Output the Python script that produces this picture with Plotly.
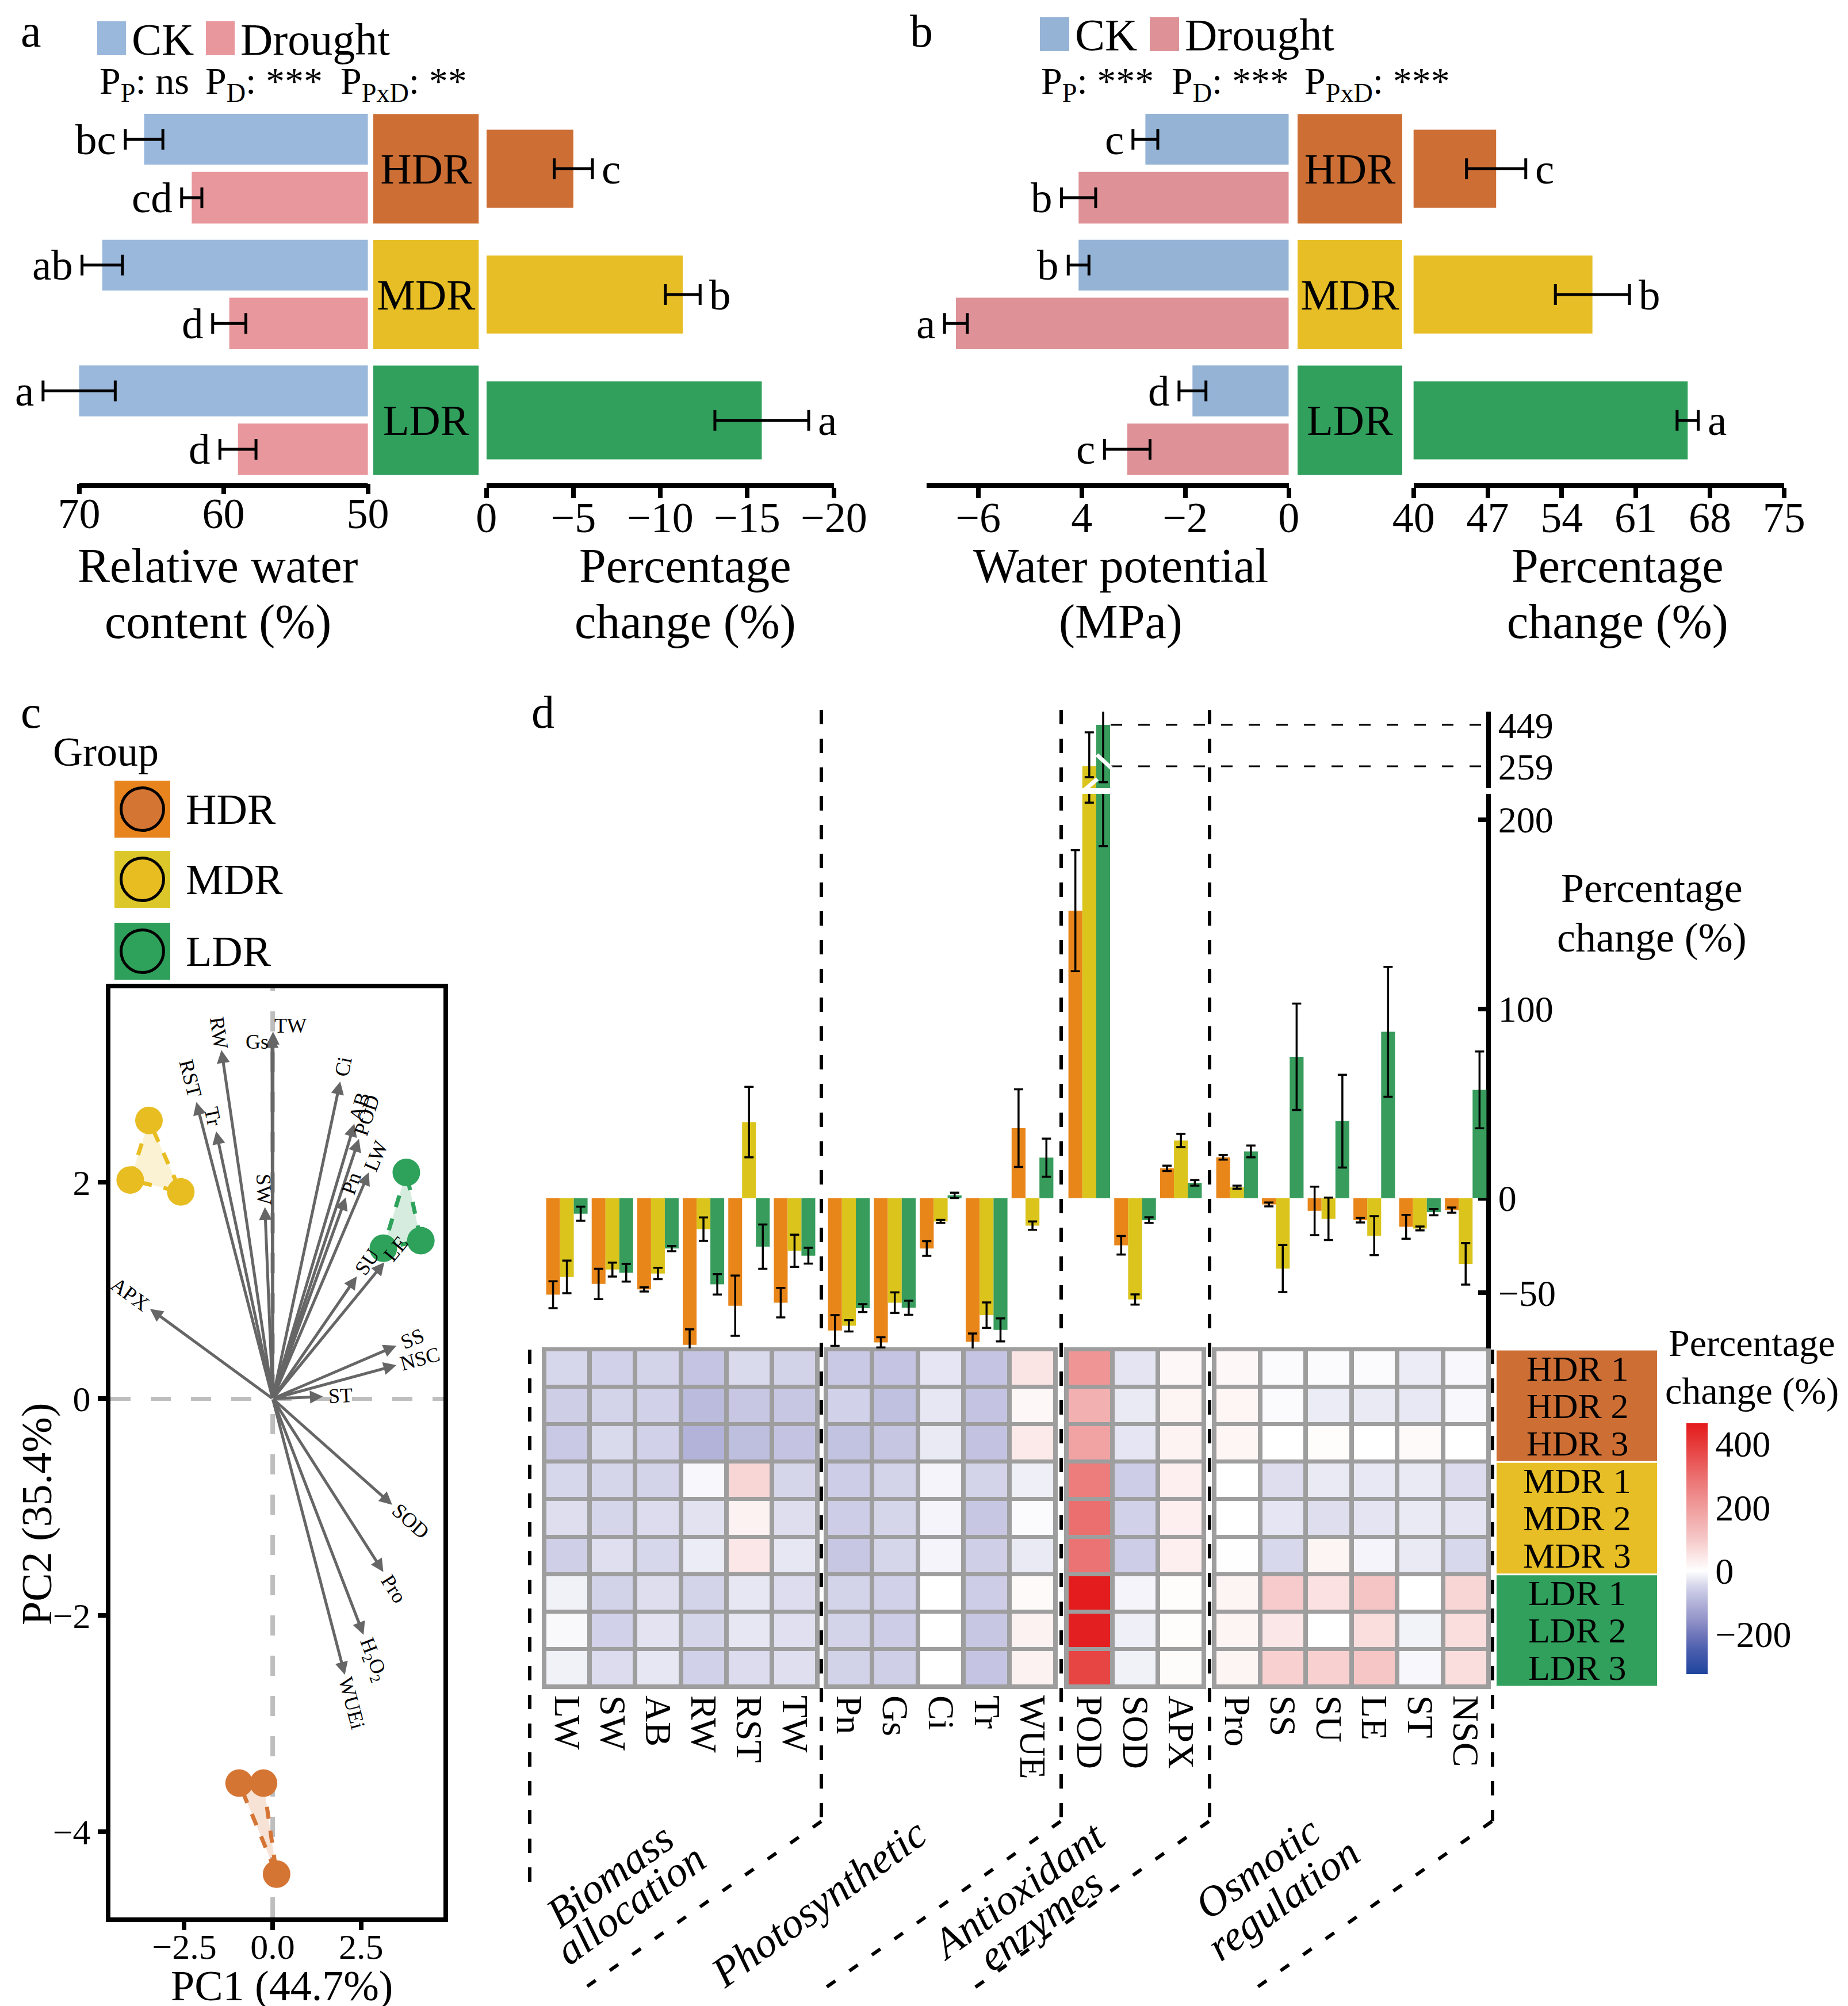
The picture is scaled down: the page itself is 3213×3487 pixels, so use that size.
import math
import re
import plotly.graph_objects as go

W, H = 3213, 3487
FONT = "Liberation Serif"


def px(x):
    return x / W


def py(y):
    return 1 - y / H


def mfmt(v):
    s = f"{v:g}"
    return s.replace("-", "\u2212")


# ------------------------------------------------------------------ data
groups = ["HDR", "MDR", "LDR"]

# panel a : relative water content (%)
rwc_ck = [65.5, 68.4, 70.0]
rwc_ck_se = [1.3, 1.4, 2.5]
rwc_ck_let = ["bc", "ab", "a"]
rwc_dr = [62.2, 59.6, 59.0]
rwc_dr_se = [0.7, 1.15, 1.25]
rwc_dr_let = ["cd", "d", "d"]
rwc_pc = [-5.0, -11.3, -15.85]
rwc_pc_se = [1.1, 1.0, 2.7]
rwc_pc_let = ["c", "b", "a"]
rwc_ticks = [70, 60, 50]
rwc_pc_ticks = [0, -5, -10, -15, -20]
p_text_a = ["P<sub>P</sub>: ns", "P<sub>D</sub>: ***", "P<sub>PxD</sub>: **"]

# panel b : water potential (MPa)
wp_ck = [-2.77, -4.06, -1.86]
wp_ck_se = [0.24, 0.20, 0.26]
wp_ck_let = ["c", "b", "d"]
wp_dr = [-4.06, -6.43, -3.12]
wp_dr_se = [0.33, 0.22, 0.44]
wp_dr_let = ["b", "a", "c"]
wp_pc = [47.8, 56.9, 65.9]
wp_pc_se = [2.8, 3.5, 1.0]
wp_pc_let = ["c", "b", "a"]
wp_ticks = [-6, -4, -2, 0]
wp_ticktext = ["\u22126", "4", "\u22122", "0"]
wp_pc_ticks = [40, 47, 54, 61, 68, 75]
p_text_b = ["P<sub>P</sub>: ***", "P<sub>D</sub>: ***", "P<sub>PxD</sub>: ***"]

# panel c : PCA
pca_x = {"HDR": [-0.95, -0.26, 0.11], "MDR": [-3.50, -4.03, -2.60], "LDR": [3.78, 3.13, 4.19]}
pca_y = {"HDR": [-3.55, -3.55, -4.39], "MDR": [2.57, 2.02, 1.91], "LDR": [2.09, 1.39, 1.46]}
load_names = ["TW", "Gs", "RW", "RST", "Tr", "SW", "Ci", "AB", "POD", "LW", "Pn", "SU", "LE",
              "SS", "NSC", "ST", "APX", "SOD", "Pro", "H<sub>2</sub>O<sub>2</sub>", "WUEi"]
load_x = [0.01, -0.02, -1.45, -2.16, -1.60, -0.22, 1.91, 2.31, 2.44, 2.72, 2.07, 2.38, 3.16,
          3.50, 3.50, 1.42, -3.47, 3.38, 3.13, 2.57, 2.04]
load_y = [3.39, 3.36, 3.22, 2.74, 2.47, 1.77, 2.93, 2.54, 2.40, 2.09, 1.86, 1.13, 1.26,
          0.49, 0.31, 0.02, 0.83, -0.98, -1.60, -2.18, -2.55]
pca_xticks = [-2.5, 0, 2.5]
pca_xticktext = ["\u22122.5", "0.0", "2.5"]
pca_yticks = [-4, -2, 0, 2]

# panel d : percentage change bars (mean, se) per block
block_names = ["Biomass allocation", "Photosynthetic", "Antioxidant enzymes", "Osmotic regulation"]
block_vars = [["LW", "SW", "AB", "RW", "RST", "TW"],
              ["Pn", "Gs", "Ci", "Tr", "WUE"],
              ["POD", "SOD", "APX"],
              ["Pro", "SS", "SU", "LE", "ST", "NSC"]]
bar_mean = {
    "HDR": [[-51.0, -45.3, -48.2, -77.5, -56.8, -55.2], [-69.9, -76.2, -26.6, -75.9, 37.0],
            [151.9, -24.9, 15.8], [21.6, -3.3, -6.7, -11.6, -15.1, -6.3]],
    "MDR": [[-41.6, -37.7, -39.8, -16.4, 40.2, -27.8], [-67.4, -55.2, -12.3, -61.8, -14.5],
            [259.0, -53.5, 30.5], [5.8, -37.2, -10.9, -19.8, -16.0, -34.7]],
    "LDR": [[-8.2, -39.4, -26.6, -45.5, -25.6, -30.4], [-58.1, -57.9, 1.5, -69.6, 21.4],
            [449.0, -11.6, 8.1], [24.7, 74.7, 40.7, 87.9, -7.4, 57.2]],
}
bar_se_plus = {
    "HDR": [[7.1, 8.0, 1.1, 8.2, 15.9, 7.8], [8.1, 2.7, 3.9, 4.4, 20.5],
            [32.0, 4.9, 1.4], [1.2, 1.0, 12.8, 1.2, 6.3, 1.4]],
    "MDR": [[8.6, 3.7, 3.0, 6.2, 18.6, 8.5], [3.0, 5.4, 0.8, 6.7, 2.2],
            [156.0, 2.7, 3.5], [0.8, 12.4, 11.2, 10.3, 1.0, 11.0]],
    "LDR": [[3.7, 4.7, 1.4, 5.4, 11.7, 4.2], [2.1, 3.7, 1.4, 6.1, 10.1],
            [263.0, 1.5, 1.5], [3.1, 28.1, 24.5, 34.3, 1.6, 20.3]],
}
bar_se_minus = {
    "HDR": bar_se_plus["HDR"],
    "MDR": [[8.6, 3.7, 3.0, 6.2, 18.6, 8.5], [3.0, 5.4, 0.8, 6.7, 2.2],
            [50.0, 2.7, 3.5], [0.8, 12.4, 11.2, 10.3, 1.0, 11.0]],
    "LDR": bar_se_plus["LDR"],
}
low_ticks = [-50, 0, 100, 200]
up_ticks = [259, 449]

# panel d : heatmap (percentage change per replicate)
heat_rows = ["HDR 1", "HDR 2", "HDR 3", "MDR 1", "MDR 2", "MDR 3", "LDR 1", "LDR 2", "LDR 3"]
heat_z = [
    [[-45, -53, -50, -72, -42, -52], [-58, -50, -53, -87, -68, -68], [-66, -42, -53, -100, -83, -73],
     [-45, -47, -50, -8, 75, -47], [-37, -47, -40, -33, 25, -37], [-57, -36, -45, -22, 45, -27],
     [-16, -52, -37, -50, -27, -39], [-7, -53, -32, -47, -27, -35], [-16, -40, -27, -53, -40, -36]],
    [[-65, -72, -29, -72, 50], [-53, -79, -27, -73, 15], [-76, -70, -24, -75, 40],
     [-60, -50, -12, -50, -18], [-60, -47, -12, -68, -5], [-68, -47, -12, -57, -24],
     [-50, -53, 0, -60, 10], [-50, -60, 0, -68, 25], [-52, -57, 0, -72, 25]],
    [[215, -31, 15], [155, -24, 20], [185, -29, 22],
     [270, -60, 30], [298, -53, 30], [290, -60, 30],
     [460, -12, 5], [455, -18, 5], [380, -16, 8]],
    [[15, -5, -5, -5, -22, -8], [18, -5, -22, -24, -26, -8], [18, 0, 5, 0, 10, 0],
     [0, -37, -24, -26, -24, -40], [0, -29, -37, -31, -24, -31], [2, -44, 20, -12, -24, -44],
     [20, 95, 55, 110, 0, 75], [20, 45, 0, 60, -15, 60], [20, 85, 85, 105, -8, 60]],
]
heat_zmin, heat_zmax = -325, 465
heat_ticks = [-200, 0, 200, 400]

# ------------------------------------------------------------------ styles
CK_A, DR_A = "#9AB8DC", "#E8979D"
CK_B, DR_B = "#95B3D5", "#DE9297"
GRP = {"HDR": "#CD6F35", "MDR": "#E7BE25", "LDR": "#30A05C"}
GRP_D = {"HDR": "#E8861A", "MDR": "#DBC41C", "LDR": "#379C5C"}
GRP_PCA = {"HDR": "#D57534", "MDR": "#E8BD22", "LDR": "#2EA25B"}
GRP_PCA_FILL = {"HDR": "rgba(213,117,52,0.20)", "MDR": "rgba(232,189,34,0.20)", "LDR": "rgba(46,162,91,0.20)"}
GRP_PCA_BOX = {"HDR": "#E8841E", "MDR": "#DCC72A", "LDR": "#2FA05B"}

fig = go.Figure()
annots = []
shapes = []


def ann(text, x, y, size, xanchor="center", yanchor="middle", angle=0):
    annots.append(dict(text=text, x=px(x), y=py(y), xref="paper", yref="paper", showarrow=False,
                       font=dict(size=size, family=FONT, color="black"), xanchor=xanchor,
                       yanchor=yanchor, textangle=angle))


def err(arr, thick=5, width=18, minus=None, visible=True):
    d = dict(type="data", array=arr, color="black", thickness=thick, width=width, visible=visible)
    if minus is not None:
        d["symmetric"] = False
        d["arrayminus"] = minus
    return d


off_ck, w_ck = -0.436, 0.404
off_dr, w_dr = 0.025, 0.41
off_pc, w_pc = -0.31, 0.62
off_box, w_box = -0.435, 0.87
cen_ck = off_ck + w_ck / 2
cen_dr = off_dr + w_dr / 2
AXIS_Y_AB = 836

# ------------------------------------------------------------------ panels a & b
for (xl, xb, xr, ya, ck, ckse, ckl, dr, drse, drl, pc, pcse, pcl, cck, cdr, sign_l) in [
    ("x", "x2", "x3", "y", rwc_ck, rwc_ck_se, rwc_ck_let, rwc_dr, rwc_dr_se, rwc_dr_let,
     rwc_pc, rwc_pc_se, rwc_pc_let, CK_A, DR_A, 1),
    ("x4", "x5", "x6", "y2", wp_ck, wp_ck_se, wp_ck_let, wp_dr, wp_dr_se, wp_dr_let,
     wp_pc, wp_pc_se, wp_pc_let, CK_B, DR_B, -1),
]:
    fig.add_trace(go.Bar(orientation="h", y=groups, x=ck, offset=off_ck, width=w_ck,
                         marker=dict(color=cck, line=dict(width=0)), error_x=err(ckse),
                         xaxis=xl, yaxis=ya, showlegend=False, hoverinfo="skip"))
    fig.add_trace(go.Bar(orientation="h", y=groups, x=dr, offset=off_dr, width=w_dr,
                         marker=dict(color=cdr, line=dict(width=0)), error_x=err(drse),
                         xaxis=xl, yaxis=ya, showlegend=False, hoverinfo="skip"))
    fig.add_trace(go.Bar(orientation="h", y=groups, x=[1] * len(groups), offset=off_box, width=w_box,
                         marker=dict(color=[GRP[g] for g in groups], line=dict(width=0)),
                         text=groups, textposition="inside", insidetextanchor="middle",
                         constraintext="none", textangle=0,
                         textfont=dict(size=75, family=FONT, color="black"),
                         xaxis=xb, yaxis=ya, showlegend=False, hoverinfo="skip"))
    fig.add_trace(go.Bar(orientation="h", y=groups, x=pc, offset=off_pc, width=w_pc,
                         marker=dict(color=[GRP[g] for g in groups], line=dict(width=0)),
                         error_x=err(pcse), xaxis=xr, yaxis=ya, showlegend=False, hoverinfo="skip"))
    for i in range(len(groups)):
        for v, s, lab, c in [(ck[i], ckse[i], ckl[i], cen_ck), (dr[i], drse[i], drl[i], cen_dr)]:
            annots.append(dict(text=lab, x=v + sign_l * s, y=i + c, xref=xl, yref=ya, showarrow=False,
                               xanchor="right", yanchor="middle", xshift=-14,
                               font=dict(size=75, family=FONT, color="black")))
        annots.append(dict(text=pcl[i], x=pc[i] - sign_l * pcse[i], y=i, xref=xr, yref=ya,
                           showarrow=False, xanchor="left", yanchor="middle", xshift=14,
                           font=dict(size=75, family=FONT, color="black")))

axis_common = dict(showline=True, linecolor="black", linewidth=8, ticks="outside", ticklen=18,
                   tickwidth=8, tickcolor="black", showgrid=False, zeroline=False, ticklabelstandoff=-30,
                   tickfont=dict(size=74, family=FONT, color="black"))
ydom_ab = [py(832), py(176)]
layout = dict(
    width=W, height=H, margin=dict(l=0, r=0, t=0, b=0, pad=0, autoexpand=False), autosize=False,
    paper_bgcolor="white", plot_bgcolor="rgba(0,0,0,0)",
    font=dict(family=FONT, color="black"),
    barmode="group", bargap=0.09, bargroupgap=0,
    showlegend=False,
)
layout["yaxis"] = dict(domain=ydom_ab, type="category", categoryorder="array", categoryarray=groups,
                       range=[2.5, -0.5], visible=False, anchor="x")
layout["yaxis2"] = dict(domain=ydom_ab, type="category", categoryorder="array", categoryarray=groups,
                        range=[2.5, -0.5], visible=False, anchor="x4")
A_L70, A_R50 = 129.6, 631.6
a_ppu = (A_R50 - A_L70) / (rwc_ticks[0] - rwc_ticks[-1])
a_rng_left = 74
layout["xaxis"] = dict(axis_common, showline=False,
                       domain=[px(A_R50 - (a_rng_left - rwc_ticks[-1]) * a_ppu), px(A_R50)],
                       range=[a_rng_left, rwc_ticks[-1]], tickvals=rwc_ticks,
                       ticktext=[mfmt(v) for v in rwc_ticks], anchor="y")
shapes.append(dict(type="line", xref="x", yref="paper", x0=rwc_ticks[0], x1=rwc_ticks[-1],
                   y0=py(AXIS_Y_AB), y1=py(AXIS_Y_AB), line=dict(color="black", width=8)))
layout["xaxis2"] = dict(domain=[px(641), px(824.5)], range=[0, 1], visible=False, anchor="y")
layout["xaxis3"] = dict(axis_common, domain=[px(837.8), px(1441.8)], range=[0, -20], tickvals=rwc_pc_ticks,
                        ticktext=[mfmt(v) for v in rwc_pc_ticks], anchor="y")
layout["xaxis4"] = dict(axis_common, domain=[px(1602.7), px(2232.7)], range=[-7, 0], tickvals=wp_ticks,
                        ticktext=wp_ticktext, anchor="y2")
layout["xaxis5"] = dict(domain=[px(2248), px(2430)], range=[0, 1], visible=False, anchor="y2")
layout["xaxis6"] = dict(axis_common, domain=[px(2449.7), px(3093.7)], range=[40, 75], tickvals=wp_pc_ticks,
                        ticktext=[mfmt(v) for v in wp_pc_ticks], anchor="y2")

for (x0, c, lab) in [(161, CK_A, "CK"), (350, DR_A, "Drought")]:
    shapes.append(dict(type="rect", xref="paper", yref="paper", x0=px(x0), x1=px(x0 + 50),
                       y0=py(88), y1=py(29), fillcolor=c, line=dict(width=0)))
    ann(lab, x0 + 58, 60, 78, xanchor="left")
for (x0, c, lab) in [(1800, CK_B, "CK"), (1991, DR_B, "Drought")]:
    shapes.append(dict(type="rect", xref="paper", yref="paper", x0=px(x0), x1=px(x0 + 51),
                       y0=py(81), y1=py(22), fillcolor=c, line=dict(width=0)))
    ann(lab, x0 + 59, 53, 78, xanchor="left")
for t, x in zip(p_text_a, [163, 347, 582]):
    ann(t, x, 138, 66, xanchor="left")
for t, x in zip(p_text_b, [1800, 2027, 2258]):
    ann(t, x, 138, 66, xanchor="left")
ann("a", 46, 46, 80)
ann("b", 1594, 46, 80)
ann("Relative water", 370, 975, 84)
ann("content (%)", 371, 1073, 84)
ann("Percentage", 1183, 975, 84)
ann("change (%)", 1183, 1073, 84)
ann("Water potential", 1941, 975, 84)
ann("(MPa)", 1941, 1073, 84)
ann("Percentage", 2804, 975, 84)
ann("change (%)", 2804, 1073, 84)

# ------------------------------------------------------------------ panel c (PCA)
PX0, PX1, PY0, PY1 = 184, 763, 1710, 3325
XR = [-4.59, 4.83]
YR = [-4.79, 3.79]
XS = (PX1 - PX0) / (XR[1] - XR[0])
YS = (PY1 - PY0) / (YR[1] - YR[0])
for g in groups:
    hx = pca_x[g] + [pca_x[g][0]]
    hy = pca_y[g] + [pca_y[g][0]]
    fig.add_trace(go.Scatter(x=hx, y=hy, mode="lines", fill="toself", fillcolor=GRP_PCA_FILL[g],
                             line=dict(color=GRP_PCA[g], width=7, dash="dash"),
                             xaxis="x7", yaxis="y3", showlegend=False, hoverinfo="skip"))
for g in groups:
    fig.add_trace(go.Scatter(x=pca_x[g], y=pca_y[g], mode="markers",
                             marker=dict(size=48, color=GRP_PCA[g], line=dict(width=0)),
                             xaxis="x7", yaxis="y3", showlegend=False, hoverinfo="skip"))
layout["xaxis7"] = dict(domain=[px(PX0), px(PX1)], range=XR, tickvals=pca_xticks, ticktext=pca_xticktext,
                        showline=True, mirror=True, linecolor="black", linewidth=8, ticks="outside",
                        ticklen=14, tickwidth=8, tickcolor="black", showgrid=False, zeroline=False,
                        ticklabelstandoff=-24,
                        tickfont=dict(size=62, family=FONT, color="black"), anchor="y3")
layout["yaxis3"] = dict(domain=[py(PY1), py(PY0)], range=YR, tickvals=pca_yticks,
                        ticktext=[mfmt(v) for v in pca_yticks],
                        showline=True, mirror=True, linecolor="black", linewidth=8, ticks="outside",
                        ticklen=14, tickwidth=8, tickcolor="black", showgrid=False, zeroline=False,
                        tickfont=dict(size=62, family=FONT, color="black"), anchor="x7")
shapes.append(dict(type="line", xref="x7", yref="y3", x0=0, x1=0, y0=YR[0], y1=YR[1], layer="below",
                   line=dict(color="#BEBEBE", width=8, dash="35px,35px")))
shapes.append(dict(type="line", xref="x7", yref="y3", x0=XR[0], x1=XR[1], y0=0, y1=0, layer="below",
                   line=dict(color="#BEBEBE", width=7, dash="35px,35px")))


def text_w(t):
    s = re.sub(r"<[^>]+>", "", t)
    return sum(0.68 if ch.isupper() else 0.45 for ch in s)


LFS = 36
for name, lx, ly in zip(load_names, load_x, load_y):
    annots.append(dict(x=lx, y=ly, ax=0, ay=0, xref="x7", yref="y3", axref="x7", ayref="y3", text="",
                       showarrow=True, arrowhead=2, arrowsize=0.9, arrowwidth=5, arrowcolor="#666666"))
    half = text_w(name) * LFS / 2 + 6
    if abs(lx) < 0.05:
        th = 0.0 if lx >= 0 else math.pi
        angle = 0
        ysh = 10 if lx >= 0 else -12
    else:
        th = math.atan2(ly * YS, lx * XS)
        ysh = 0
        if lx > 0:
            angle = -math.degrees(th)
        else:
            a = math.degrees(th) + 180
            if a > 180:
                a -= 360
            angle = -a
    annots.append(dict(x=lx, y=ly, xref="x7", yref="y3", text=name, showarrow=False,
                       xshift=half * math.cos(th), yshift=half * math.sin(th) + ysh, textangle=angle,
                       font=dict(size=LFS, family=FONT, color="black")))

ann("c", 46, 1230, 80)
ann("Group", 82, 1299, 72, xanchor="left")
for g, y0 in zip(groups, [1349, 1471, 1596]):
    shapes.append(dict(type="rect", xref="paper", yref="paper", x0=px(191), x1=px(288), y0=py(y0 + 99),
                       y1=py(y0), fillcolor=GRP_PCA_BOX[g], line=dict(width=0)))
    shapes.append(dict(type="circle", xref="paper", yref="paper", x0=px(239.5 - 37), x1=px(239.5 + 37),
                       y0=py(y0 + 49.5 + 37), y1=py(y0 + 49.5 - 37), fillcolor=GRP_PCA[g],
                       line=dict(color="black", width=5)))
    ann(g, 313, y0 + 50, 74, xanchor="left")
ann("PC1 (44.7%)", 482, 3444, 74)
ann("PC2 (35.4%)", 56, 2624, 74, angle=-90)

# ------------------------------------------------------------------ panel d
block_px = [(938, 1413), (1428, 1827), (1846, 2085), (2103, 2580)]
HEAT_TOP, HEAT_BOT = 2338, 2924
LOW_TOP, LOW_BOT = 1372, 2336
UP_TOP, UP_BOT = 1229, 1362
AXIS_X = 2580
low_range = [-79.4, 213.6]
up_range = [159, 510]

for bi, (vars_, (bx0, bx1)) in enumerate(zip(block_vars, block_px)):
    xa = f"x{8 + bi}"
    for g in groups:
        fig.add_trace(go.Bar(x=vars_, y=bar_mean[g][bi], marker=dict(color=GRP_D[g], line=dict(width=0)),
                             error_y=err(bar_se_plus[g][bi], thick=3.5, width=8, minus=bar_se_minus[g][bi]),
                             xaxis=xa, yaxis="y4", showlegend=False, hoverinfo="skip"))
    if bi == 2:
        for g in groups:
            fig.add_trace(go.Bar(x=vars_, y=bar_mean[g][bi], marker=dict(color=GRP_D[g], line=dict(width=0)),
                                 error_y=err(bar_se_plus[g][bi], thick=3.5, width=8,
                                             minus=bar_se_minus[g][bi], visible=(g != "HDR")),
                                 xaxis=xa, yaxis="y5", showlegend=False, hoverinfo="skip"))
    fig.add_trace(go.Heatmap(z=heat_z[bi], x=vars_, y=heat_rows, coloraxis="coloraxis", xgap=8, ygap=7,
                             xaxis=xa, yaxis="y6", hoverinfo="skip"))
    layout[f"xaxis{8 + bi}"] = dict(domain=[px(bx0), px(bx1)], type="category", categoryorder="array",
                                    categoryarray=vars_, tickmode="array", tickvals=vars_, ticktext=vars_,
                                    anchor="y6", showline=False, ticks="",
                                    showgrid=False, zeroline=False, tickangle=90, ticklabelstandoff=14,
                                    tickfont=dict(size=64, family=FONT, color="black"))
    shapes.append(dict(type="rect", xref="paper", yref="paper", x0=px(bx0), x1=px(bx1), y0=py(HEAT_BOT),
                       y1=py(HEAT_TOP), fillcolor="#9E9E9E", line=dict(color="#9E9E9E", width=8),
                       layer="below"))

layout["yaxis4"] = dict(domain=[py(LOW_BOT), py(LOW_TOP)], range=low_range, anchor="free", position=px(AXIS_X),
                        side="right", showline=True, linecolor="black", linewidth=8, ticks="inside",
                        ticklen=14, tickwidth=8, tickcolor="black", tickvals=low_ticks,
                        ticktext=[mfmt(v) for v in low_ticks], showgrid=False, zeroline=False,
                        tickfont=dict(size=64, family=FONT, color="black"))
layout["yaxis5"] = dict(domain=[py(UP_BOT), py(UP_TOP)], range=up_range, anchor="free", position=px(AXIS_X),
                        side="right", showline=True, linecolor="black", linewidth=8, ticks="",
                        tickvals=up_ticks, ticktext=[mfmt(v) for v in up_ticks], showgrid=False,
                        zeroline=False, tickfont=dict(size=64, family=FONT, color="black"))
layout["yaxis6"] = dict(domain=[py(HEAT_BOT), py(HEAT_TOP)], type="category", categoryorder="array",
                        categoryarray=heat_rows, range=[8.5, -0.5], visible=False, anchor="x8")

cs = [(-325, "#1F459E"), (-250, "#4A5EAE"), (-200, "#7077BA"), (-150, "#9596CA"), (-100, "#B3B3D9"),
      (-50, "#D3D3EA"), (0, "#FFFFFF"), (50, "#FBE4E4"), (100, "#F6C8C8"), (200, "#F09C9C"),
      (300, "#EB6E6E"), (400, "#E63A3A"), (465, "#E41A1C")]
colorscale = [[(v - heat_zmin) / (heat_zmax - heat_zmin), c] for v, c in cs]
layout["coloraxis"] = dict(cmin=heat_zmin, cmax=heat_zmax, colorscale=colorscale,
                           colorbar=dict(x=px(2924), xanchor="left", y=py(2684), yanchor="middle",
                                         thickness=37, thicknessmode="pixels", len=436, lenmode="pixels",
                                         tickvals=heat_ticks, ticktext=[mfmt(v) for v in heat_ticks],
                                         ticks="", outlinewidth=0, xpad=0, ypad=0,
                                         tickfont=dict(size=64, family=FONT, color="black")))
ann("Percentage", 3038, 2326, 66)
ann("change (%)", 3038, 2410, 66)

row_h = (HEAT_BOT - HEAT_TOP) / len(heat_rows)
for gi, g in enumerate(groups):
    y0 = HEAT_TOP + gi * 3 * row_h
    shapes.append(dict(type="rect", xref="paper", yref="paper", x0=px(2594), x1=px(2873),
                       y0=py(y0 + 3 * row_h - 1.5), y1=py(y0 + 1.5), fillcolor=GRP[g], line=dict(width=0)))
for ri, r in enumerate(heat_rows):
    ann(r, 2734, HEAT_TOP + (ri + 0.5) * row_h, 62)

dash_v = dict(color="black", width=6, dash="25px,25px")
for x in [1420, 1837, 2095]:
    shapes.append(dict(type="line", xref="paper", yref="paper", x0=px(x), x1=px(x), y0=py(1226), y1=py(3158),
                       line=dash_v))
shapes.append(dict(type="line", xref="paper", yref="paper", x0=px(913), x1=px(913), y0=py(2338), y1=py(3277),
                   line=dash_v))
shapes.append(dict(type="line", xref="paper", yref="paper", x0=px(2587), x1=px(2587), y0=py(2338), y1=py(3158),
                   line=dash_v))
for (x0, x1) in [(1420, 1000), (1836, 1418), (2094, 1677), (2586, 2167)]:
    shapes.append(dict(type="line", xref="paper", yref="paper", x0=px(x0), x1=px(x1), y0=py(3158), y1=py(3454),
                       line=dict(color="black", width=6, dash="18px,30px")))
for yv in [bar_mean["LDR"][2][0], bar_mean["MDR"][2][0]]:
    shapes.append(dict(type="line", xref="paper", yref="y5", x0=px(1923), x1=px(AXIS_X), y0=yv, y1=yv,
                       line=dict(color="black", width=3, dash="20px,28px")))
shapes.append(dict(type="line", xref="paper", yref="paper", x0=px(1874), x1=px(1900), y0=py(1368), y1=py(1346),
                   line=dict(color="white", width=7)))
shapes.append(dict(type="line", xref="paper", yref="paper", x0=px(1899), x1=px(1924), y0=py(1304), y1=py(1327),
                   line=dict(color="white", width=7)))

ann("d", 936, 1230, 80)
ann("Percentage", 2864, 1536, 72)
ann("change (%)", 2864, 1622, 72)

for t, x, y in [("Biomass", 1052, 3252), ("allocation", 1088, 3302), ("Photosynthetic", 1415, 3300),
                ("Antioxidant", 1762, 3278), ("enzymes", 1801, 3329), ("Osmotic", 2178, 3239),
                ("regulation", 2223, 3293)]:
    ann(f"<i>{t}</i>", x, y, 74, angle=-36)

for k, v in layout.items():
    if (k.startswith("xaxis") or k.startswith("yaxis")) and isinstance(v, dict):
        v["automargin"] = False

layout["annotations"] = annots
layout["shapes"] = shapes
fig.update_layout(**layout)
fig.write_html("out.html")
